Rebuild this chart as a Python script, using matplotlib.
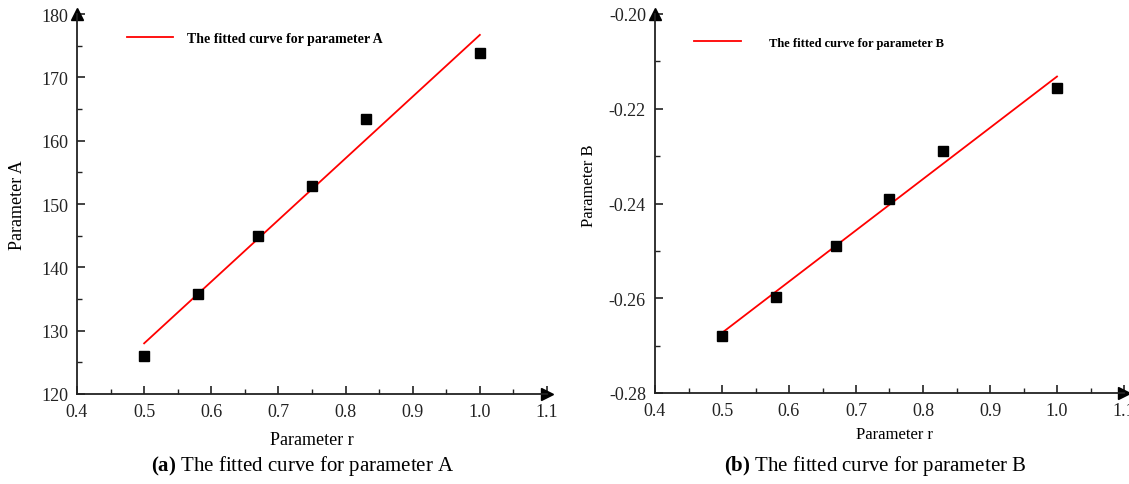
import matplotlib
matplotlib.use("Agg")
import matplotlib.pyplot as plt
from matplotlib.ticker import MultipleLocator, FormatStrFormatter

plt.rcParams['font.family'] = ['Liberation Serif', 'DejaVu Serif']
plt.rcParams['axes.unicode_minus'] = False
plt.rcParams['mathtext.fontset'] = 'custom'
plt.rcParams['mathtext.rm'] = 'Liberation Serif'
plt.rcParams['mathtext.bf'] = 'Liberation Serif:bold'

# Data
r_values = [0.5, 0.58, 0.67, 0.75, 0.83, 1.0]
param_A = [126.0, 135.8, 145.0, 152.9, 163.4, 173.8]
param_B = [-0.268, -0.2598, -0.2490, -0.2390, -0.2290, -0.2157]
fit_r = [0.5, 1.0]
fit_A = [128.0, 176.7]
fit_B = [-0.2673, -0.2132]

legend_A = "The fitted curve for parameter A"
legend_B = "The fitted curve for parameter B"
caption_A = r"$\mathbf{(a)}$ The fitted curve for parameter A"
caption_B = r"$\mathbf{(b)}$ The fitted curve for parameter B"

W, H = 1129, 485
fig = plt.figure(figsize=(W / 100, H / 100), dpi=100)

def px(x0, y0, x1, y1):
    return [x0 / W, 1 - y1 / H, (x1 - x0) / W, (y1 - y0) / H]

axA = fig.add_axes(px(77, 15, 547, 395))
axB = fig.add_axes(px(655, 15, 1124, 394))

def style(ax, ylim, ymaj, ymin, yfmt):
    ax.set_xlim(0.4, 1.1)
    ax.set_ylim(*ylim)
    ax.xaxis.set_major_locator(MultipleLocator(0.1))
    ax.xaxis.set_minor_locator(MultipleLocator(0.05))
    ax.yaxis.set_major_locator(MultipleLocator(ymaj))
    ax.yaxis.set_minor_locator(MultipleLocator(ymin))
    ax.xaxis.set_major_formatter(FormatStrFormatter('%.1f'))
    ax.yaxis.set_major_formatter(FormatStrFormatter(yfmt))
    for s in ['top', 'right']:
        ax.spines[s].set_visible(False)
    for s in ['left', 'bottom']:
        ax.spines[s].set_linewidth(1.3)
        ax.spines[s].set_color('#222222')
    ax.tick_params(which='major', direction='in', length=6, width=1.2,
                   labelsize=13, colors='#222222', pad=6.5)
    ax.tick_params(which='minor', direction='in', length=3.5, width=1.0,
                   colors='#222222')
    ax.plot([1], [0], marker='>', color='black', markersize=9,
            transform=ax.transAxes, clip_on=False)
    ax.plot([0], [1], marker='^', color='black', markersize=9,
            transform=ax.transAxes, clip_on=False)

style(axA, (120, 180), 10, 5, '%d')
style(axB, (-0.28, -0.20), 0.02, 0.01, '%.2f')

axA.plot(fit_r, fit_A, color='red', lw=1.3)
axA.plot(r_values, param_A, 's', color='black', markersize=6.5, ls='none')
axB.plot(fit_r, fit_B, color='red', lw=1.3)
axB.plot(r_values, param_B, 's', color='black', markersize=6.5, ls='none')

# legends
axA.legend([axA.lines[2]], [legend_A], loc='upper left',
           bbox_to_anchor=(0.08, 0.985), frameon=False,
           prop={'weight': 'bold', 'size': 10}, handlelength=3.3,
           handletextpad=1.0)
axB.legend([axB.lines[2]], [legend_B], loc='upper left',
           bbox_to_anchor=(0.06, 0.97), frameon=False,
           prop={'weight': 'bold', 'size': 9}, handlelength=3.7,
           handletextpad=2.3)

axA.set_ylabel("Parameter A", fontsize=13)
axA.yaxis.set_label_coords(-0.108, 0.5)
axA.set_xlabel("Parameter r", fontsize=13)
axA.xaxis.set_label_coords(0.5, -0.097)
axB.set_ylabel("Parameter B", fontsize=12)
axB.yaxis.set_label_coords(-0.124, 0.55)
axB.set_xlabel("Parameter r", fontsize=12)
axB.xaxis.set_label_coords(0.51, -0.087)

fig.text(303 / W, 1 - 466 / H, caption_A, ha='center', va='center', fontsize=15)
fig.text(875 / W, 1 - 466 / H, caption_B, ha='center', va='center', fontsize=15)

fig.savefig("out.png", dpi=100)
